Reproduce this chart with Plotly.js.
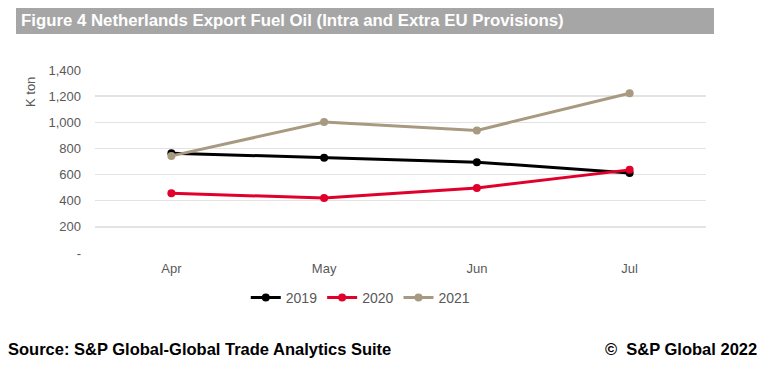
<!DOCTYPE html>
<html>
<head>
<meta charset="utf-8">
<script src="https://cdn.plot.ly/plotly-3.0.1.min.js"></script>
<style>
html,body{margin:0;padding:0;background:#fff;}
#chart{width:773px;height:370px;}
</style>
</head>
<body>
<div id="chart"></div>
<script>
const months = ["Apr", "May", "Jun", "Jul"];
const y2019 = [764, 728, 695, 612];
const y2020 = [458, 420, 497, 636];
const y2021 = [743, 1002, 938, 1222];
const seriesNames = ["2019", "2020", "2021"];
const seriesColors = ["#000000", "#e0002b", "#a89a80"];
const yTickVals = [0, 200, 400, 600, 800, 1000, 1200, 1400];
const yTickText = ["-", "200", "400", "600", "800", "1,000", "1,200", "1,400"];

const seriesData = [y2019, y2020, y2021];
const traces = seriesData.map((ys, i) => ({
  type: "scatter",
  mode: "lines+markers",
  x: months,
  y: ys,
  name: seriesNames[i],
  line: {color: seriesColors[i], width: 3},
  marker: {color: seriesColors[i], size: 8},
  cliponaxis: false
}));

const ff = "Liberation Sans, Arial, sans-serif";
const layout = {
  width: 773,
  height: 370,
  margin: {l: 95, r: 67, t: 70, b: 117},
  paper_bgcolor: "#ffffff",
  plot_bgcolor: "#ffffff",
  font: {family: ff, color: "#595959", size: 13},
  showlegend: true,
  legend: {
    orientation: "h",
    x: 0.435, xanchor: "center",
    y: -0.245, yanchor: "middle",
    font: {size: 14, color: "#595959"},
    itemwidth: 30,
    tracegroupgap: 0
  },
  xaxis: {
    type: "category",
    range: [-0.5, 3.5],
    showgrid: false,
    zeroline: false,
    showline: false,
    ticks: "",
    tickfont: {size: 13, color: "#595959"},
    ticklabelstandoff: 6
  },
  yaxis: {
    range: [0, 1400],
    tickvals: yTickVals,
    ticktext: yTickText,
    showgrid: true,
    gridcolor: "#e3e3e3",
    gridwidth: 1.5,
    zeroline: false,
    showline: false,
    ticks: "",
    tickfont: {size: 13, color: "#595959"},
    ticklabelstandoff: 13
  },
  shapes: [{
    type: "rect", xref: "paper", yref: "paper",
    x0: -79/611, x1: 619/611, y0: 1 + 36/183, y1: 1 + 62/183,
    fillcolor: "#a6a6a6", line: {width: 0}, layer: "below"
  }],
  annotations: [
    {
      text: "<b>Figure 4 Netherlands Export Fuel Oil (Intra and Extra EU Provisions)</b>",
      xref: "paper", yref: "paper", x: -76/611, y: 1 + 49/183,
      xanchor: "left", yanchor: "middle", showarrow: false,
      font: {size: 16.8, color: "#ffffff", family: ff}
    },
    {
      text: "K ton",
      xref: "paper", yref: "paper", x: -65/611, y: 1 - 22/183,
      xanchor: "center", yanchor: "middle", showarrow: false, textangle: -90,
      font: {size: 13, color: "#595959", family: ff}
    },
    {
      text: "<b>Source: S&P Global-Global Trade Analytics Suite</b>",
      xref: "paper", yref: "paper", x: -89/611, y: -96/183,
      xanchor: "left", yanchor: "middle", showarrow: false,
      font: {size: 16.5, color: "#000000", family: ff}
    },
    {
      text: "<b>©  S&P Global 2022</b>",
      xref: "paper", yref: "paper", x: 664/611, y: -96/183,
      xanchor: "right", yanchor: "middle", showarrow: false,
      font: {size: 16.5, color: "#000000", family: ff}
    }
  ]
};

Plotly.newPlot("chart", traces, layout, {displayModeBar: false, staticPlot: true});
</script>
</body>
</html>
